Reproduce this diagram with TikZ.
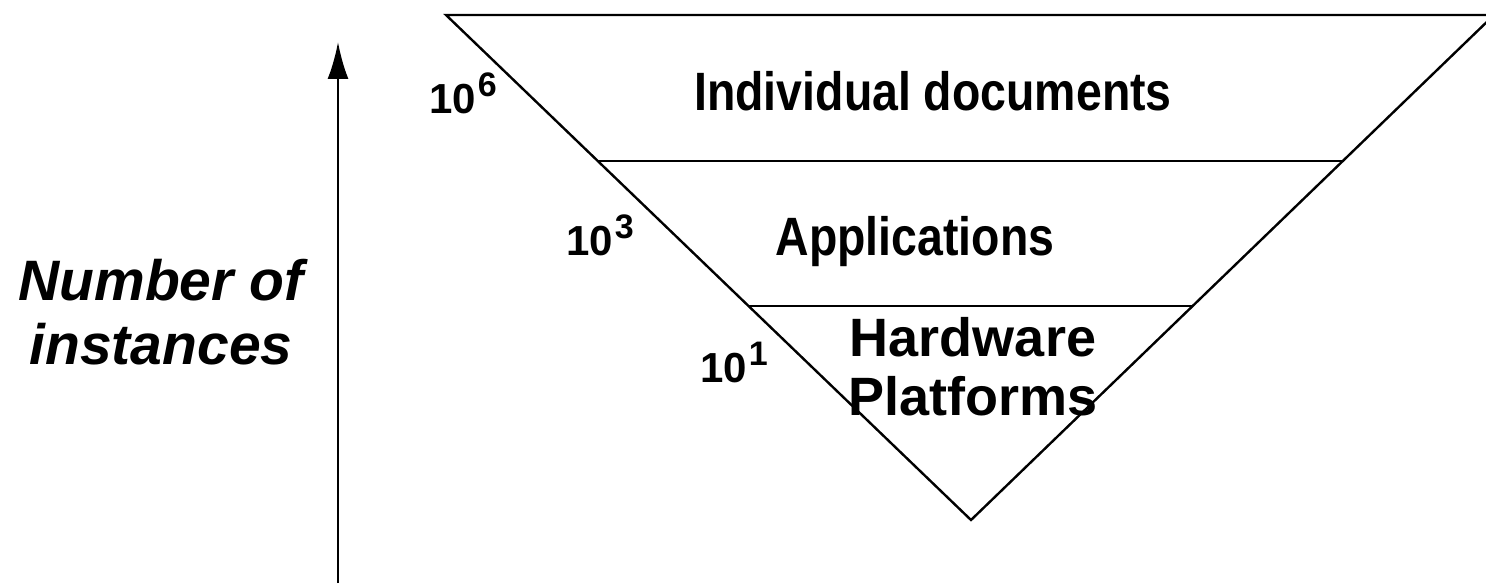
\documentclass[tikz,border=0pt]{standalone}
\usepackage{fontspec}
\setmainfont{Liberation Sans}
\newfontfamily\narrowfont{Liberation Sans}[FakeStretch=0.86]
\usetikzlibrary{arrows.meta,calc}

% power of ten with a raised exponent
\newcommand{\tenpow}[1]{10\kern1pt\raisebox{8.5pt}{\fontsize{17}{18}\selectfont #1}}

\tikzset{
  layer/.style={font=\fontsize{27}{29.5}\selectfont\bfseries,anchor=base,inner sep=0pt,align=center},
  wide layer/.style={layer,font=\fontsize{27}{29.5}\selectfont\narrowfont\bfseries},
  count/.style={font=\fontsize{21}{24}\selectfont\bfseries,anchor=base west,inner sep=0pt},
}

\begin{document}
\begin{tikzpicture}[x=0.5pt,y=-0.5pt,line width=1.2pt]
	\useasboundingbox (0,0) rectangle (1486,583);
	\clip (0,0) rectangle (1486,583);

	% the funnel
	\coordinate (tl) at (446,15);
	\coordinate (tr) at (1494,15);
	\coordinate (apex) at (971,520);
	\coordinate (ml) at ($(apex)!0.711!(tl)$);
	\coordinate (mr) at ($(apex)!0.711!(tr)$);
	\coordinate (ll) at ($(apex)!0.424!(tl)$);
	\coordinate (lr) at ($(apex)!0.424!(tr)$);
	\draw (tl) -- (tr) -- (apex) -- cycle;
	\draw (ml) -- (mr);
	\draw (ll) -- (lr);

	% vertical axis
	\coordinate (axisfoot) at (338,583);
	\coordinate (axistop) at (338,42);
	\draw[-{Latex[length=18.5pt,width=10.5pt]}] (axisfoot) -- (axistop);
	\node[font=\fontsize{28.5}{32}\selectfont\bfseries\itshape,align=center,anchor=base,inner sep=0pt] (axislabel) at (161,364) {Number of\\instances};

	% layers
	\node[wide layer] (docs) at (933,111) {Individual documents};
	\node[wide layer] (apps) at (915,255) {Applications};
	\node[layer] (hw) at (973,415) {Hardware\\Platforms};

	\node[count] (c6) at (428,113) {\tenpow{6}};
	\node[count] (c3) at (565,255) {\tenpow{3}};
	\node[count] (c1) at (699,382) {\tenpow{1}};

\end{tikzpicture}
\end{document}
